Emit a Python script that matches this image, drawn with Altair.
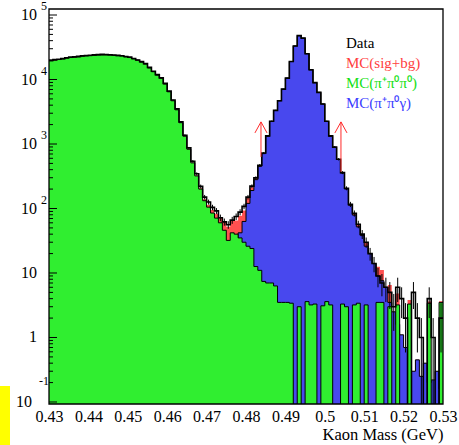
import altair as alt
import pandas as pd

# 1 MeV bins over the kaon mass window (GeV)
M_LO, M_HI, BIN_W = 0.430, 0.530, 0.001
bin_lo = [round(M_LO + BIN_W * i, 4) for i in range(100)]

# MC K -> pi+ pi0 pi0 (background), entries per bin
bg_3pi = [
    19500, 19950, 20400, 20900, 21400, 21900, 22100, 22400, 22900, 23200,
    23400, 23700, 24000, 24000, 24000, 23900, 23700, 23400, 23200, 22400,
    21900, 20900, 19950, 18600, 17400, 15100, 13200, 11700, 10500, 8500,
    6450, 4680, 3390, 2140, 1320, 830, 510, 320, 200, 132,
    105, 85, 71, 60, 46, 32, 42, 40, 35, 30,
    26, 24, 12.6, 11, 7.4, 7, 7, 6.3, 3.5, 3.5,
    3.5, 3.4, 0, 3.0, 0, 3.6, 3.2, 3.3, 0, 3.1,
    3.6, 3.2, 0, 0, 3.3, 3.0, 0, 3.2, 3.4, 0,
    3.2, 0, 0, 3.5, 3.5, 0, 3.0, 0, 3.2, 0,
    0, 3.3, 0, 0, 0, 0, 3.4, 0, 0, 3.5,
]

# MC K -> pi+ pi0 gamma (signal), entries per bin
sig_ppg = [
    0, 0, 0, 0, 0, 0, 0, 0, 0, 0,
    0, 0, 0, 0, 0.2, 0, 0.2, 0.3, 0, 0.2,
    0.2, 0.3, 0.25, 0.4, 0.3, 0.4, 0.5, 0.6, 0.8, 1.0,
    1.1, 1.3, 1.6, 2.0, 2.5, 3.0, 3.8, 4.5, 5.5, 7,
    8, 10, 12, 14, 17, 20, 22, 25, 42, 63,
    120, 190, 280, 450, 710, 1320, 2240, 3310, 4680, 7080,
    10500, 19000, 33100, 47900, 43700, 25100, 14100, 8910, 6310, 4170,
    2240, 1320, 890, 575, 355, 200, 112, 79, 52, 38,
    26, 20, 14, 9, 7.6, 6.0, 3.5, 2.5, 1.6, 1.1,
    0.7, 0.5, 0.3, 0.45, 0.25, 0.4, 0.2, 0.22, 0.3, 0.16,
]

# Data, events per bin
data_n = [
    19800, 20300, 20600, 21100, 21700, 22200, 22500, 22800, 23300, 23500,
    23800, 24100, 24300, 24500, 24400, 24200, 24000, 23700, 23400, 22700,
    22200, 21200, 20100, 18900, 17600, 15400, 13400, 11900, 10600, 8700,
    6600, 4800, 3500, 2200, 1370, 870, 540, 345, 220, 150,
    126, 104, 92, 72, 62, 56, 66, 75, 88, 108,
    150, 222, 298, 468, 725, 1335, 2255, 3325, 4690, 7090,
    10510, 19030, 33150, 47920, 43760, 25120, 14130, 8930, 6320, 4180,
    2250, 1335, 896, 580, 360, 206, 116, 84, 57, 40,
    30, 20, 14, 9, 7, 6, 5, 3, 6, 4,
    2, 0, 5, 2, 1, 0, 4, 1, 0, 2,
]

# selection cuts marked with arrows
cut_mass = [0.4838, 0.5041]
cut_tip = [2200, 2200]
cut_end = [630, 370]

# log y-axis ticks
major_ticks = [0.1, 1, 10, 100, 1000, 10000, 100000]
minor_ticks = [k * 10.0 ** e for e in range(-1, 5) for k in range(2, 10)]
ylab_vals = [100000, 10000, 1000, 100, 10, 1]
ylab_base = ["10", "10", "10", "10", "10", "1"]
ylab_exp = ["5", "4", "3", "2", "", ""]

x_ticks = [0.43, 0.44, 0.45, 0.46, 0.47, 0.48, 0.49, 0.50, 0.51, 0.52, 0.53]

Y_MIN, Y_MAX = 0.0931, 123900
FLOOR = 0.05
FONT = "Liberation Serif"

GREEN = "#30ee30"
BLUE = "#4848ee"
RED = "#ff5050"
ARROW = "#ff2a2a"

W, H = 394, 395

XS = alt.Scale(domain=[M_LO, M_HI], nice=False, zero=False)
YS = alt.Scale(type="log", domain=[Y_MIN, Y_MAX], nice=False)
XAX = alt.Axis(
    values=x_ticks, format=".2~f", ticks=False, domain=False, grid=False,
    labelFont=FONT, labelFontSize=16, labelColor="black", labelPadding=4,
    labelOverlap=False, labelFlush=False,
    titleFont=FONT, titleFontSize=16.5, titleFontWeight="normal", titleColor="black",
    titleAnchor="end", titleAlign="right", titleBaseline="alphabetic",
    titleX=W, titleY=35,
)
TITLE = "Kaon Mass (GeV)"

edges = bin_lo + [M_HI]
hist = pd.DataFrame({
    "m": edges,
    "bg": bg_3pi + bg_3pi[-1:],
    "sig": sig_ppg + sig_ppg[-1:],
    "dat": data_n + data_n[-1:],
})
centers = pd.DataFrame({"mc": [round(b + BIN_W / 2, 4) for b in bin_lo], "n": data_n})

base = alt.Chart(hist).transform_calculate(
    tot_c=f"max(datum.bg + datum.sig, {FLOOR})",
    bg_c=f"max(datum.bg, {FLOOR})",
    sig_c=f"max(datum.sig, {FLOOR})",
    dat_c=f"max(datum.dat, {FLOOR})",
    fl=f"{FLOOR}",
)
xm = alt.X("m:Q", scale=XS, axis=XAX, title=TITLE)


def step_area(field, color):
    return base.mark_area(interpolate="step-after", color=color, clip=True, opacity=1).encode(
        x=xm, y=alt.Y(f"{field}:Q", scale=YS, axis=None), y2=alt.Y2("fl:Q")
    )


def step_line(field, width):
    return base.mark_line(interpolate="step-after", color="black", strokeWidth=width, clip=True).encode(
        x=xm, y=alt.Y(f"{field}:Q", scale=YS, axis=None)
    )


red_area = step_area("tot_c", RED)
blue_area = step_area("sig_c", BLUE)
blue_line = step_line("sig_c", 1)
green_area = step_area("bg_c", GREEN)
green_line = step_line("bg_c", 1)
data_line = step_line("dat_c", 1.6)

err = alt.Chart(centers).transform_filter("datum.n > 0").transform_calculate(
    lo=f"max(datum.n - sqrt(datum.n), {FLOOR})",
    hi="datum.n + sqrt(datum.n)",
).mark_rule(color="black", strokeWidth=1, clip=True).encode(
    x=alt.X("mc:Q", scale=XS, axis=XAX, title=TITLE),
    y=alt.Y("lo:Q", scale=YS, axis=None),
    y2="hi:Q",
)

cuts = pd.DataFrame({"cut": cut_mass, "tip": cut_tip, "end": cut_end})
arrow_shaft = alt.Chart(cuts).mark_rule(color=ARROW, strokeWidth=1).encode(
    x=alt.X("cut:Q", scale=XS, axis=XAX, title=TITLE),
    y=alt.Y("tip:Q", scale=YS, axis=None),
    y2="end:Q",
)
arrow_head = alt.Chart(cuts).mark_point(
    shape="M -0.55 1 L 0 0 L 0.55 1", filled=False, size=484,
    color=ARROW, strokeWidth=1, opacity=1,
).encode(
    x=alt.X("cut:Q", scale=XS, axis=XAX, title=TITLE),
    y=alt.Y("tip:Q", scale=YS, axis=None),
)

maj = alt.Chart(pd.DataFrame({"t": major_ticks})).mark_rule(color="black", strokeWidth=1).encode(
    x=alt.value(0), x2=alt.value(8), y=alt.Y("t:Q", scale=YS, axis=None)
)
mnr = alt.Chart(pd.DataFrame({"t": minor_ticks})).mark_rule(color="black", strokeWidth=1).encode(
    x=alt.value(0), x2=alt.value(4), y=alt.Y("t:Q", scale=YS, axis=None)
)

ylab = pd.DataFrame({"t": ylab_vals, "base": ylab_base, "exp": ylab_exp})
ylab_base_txt = alt.Chart(ylab).mark_text(
    align="right", baseline="middle", font=FONT, fontSize=16, color="black"
).encode(x=alt.value(-12), y=alt.Y("t:Q", scale=YS, axis=None), text="base:N")
ylab_exp_txt = alt.Chart(ylab).transform_filter("datum.exp != ''").mark_text(
    align="left", baseline="middle", font=FONT, fontSize=12, color="black", dy=-9
).encode(x=alt.value(-8), y=alt.Y("t:Q", scale=YS, axis=None), text="exp:N")

low = pd.DataFrame({"t": [0.1], "base": ["10"], "exp": ["-1"]})
low_base_txt = alt.Chart(low).mark_text(
    align="right", baseline="middle", font=FONT, fontSize=16, color="black"
).encode(x=alt.value(-17), y=alt.Y("t:Q", scale=YS, axis=None), text="base:N")
low_exp_txt = alt.Chart(low).mark_text(
    align="left", baseline="middle", font=FONT, fontSize=12, color="black", dy=-21
).encode(x=alt.value(-10), y=alt.Y("t:Q", scale=YS, axis=None), text="exp:N")

legend_rows = [
    ("Data", "black", 34),
    ("MC(sig+bg)", "#ff4040", 54),
    ("MC(π⁺π⁰π⁰)", "#14e014", 74),
    ("MC(π⁺π⁰γ)", "#3c3cff", 94),
]
legend = [
    alt.Chart(pd.DataFrame({"label": [lab]})).mark_text(
        align="left", baseline="middle", font=FONT, fontSize=15, color=col
    ).encode(x=alt.value(297), y=alt.value(yy), text="label:N")
    for lab, col, yy in legend_rows
]

frame = alt.Chart(pd.DataFrame({"f": [0]})).mark_rect(
    fill=None, stroke="black", strokeWidth=1.3
).encode(x=alt.value(0), x2=alt.value(W), y=alt.value(0), y2=alt.value(H))

marker = alt.Chart(pd.DataFrame({"f": [0]})).mark_rect(color="#ffff00").encode(
    x=alt.value(-49), x2=alt.value(-39), y=alt.value(377), y2=alt.value(436)
)

chart = alt.layer(
    red_area, blue_area, blue_line, green_area, green_line, data_line, err,
    arrow_shaft, arrow_head, mnr, maj,
    ylab_base_txt, ylab_exp_txt, low_base_txt, low_exp_txt,
    *legend, frame, marker,
).properties(
    width=W, height=H,
    autosize=alt.AutoSizeParams(type="none"),
    padding={"left": 49, "top": 9, "right": 16, "bottom": 41},
    background="white",
).configure_view(stroke=None)

chart.save("out.html", embed_options={"renderer": "svg", "actions": False})
